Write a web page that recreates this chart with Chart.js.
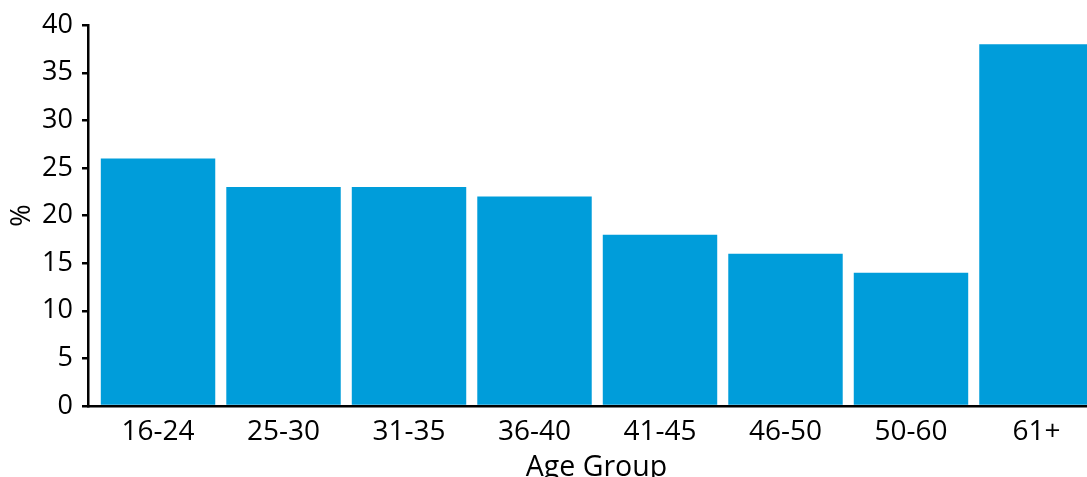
<!DOCTYPE html>
<html>
<head>
<meta charset="utf-8">
<script src="https://cdn.jsdelivr.net/npm/chart.js@4.4.1/dist/chart.umd.min.js"></script>
<style>
  html, body { margin: 0; padding: 0; background: #fff; overflow: hidden; }
  #wrap { width: 1105px; height: 477px; position: relative; }
</style>
</head>
<body>
<div id="wrap"><canvas id="ageChart"></canvas></div>
<script>
// data
const ageGroups = ['16-24', '25-30', '31-35', '36-40', '41-45', '46-50', '50-60', '61+'];
const percentValues = [26, 23, 23, 22, 18, 16, 14, 38];
const yTicks = [0, 5, 10, 15, 20, 25, 30, 35, 40];

const BAR_BLUE = '#009DDA';
const FONT = '"Open Sans", "Noto Sans", sans-serif';

Chart.defaults.font.family = FONT;
Chart.defaults.color = '#000';

// plot runs a little past the right edge of the window, like the original
const ctx = document.getElementById('ageChart').getContext('2d');
new Chart(ctx, {
    type: 'bar',
    data: {
        datasets: [{
            label: '%',
            data: percentValues.map((v, i) => ({ x: i, y: v })),
            backgroundColor: BAR_BLUE,
            borderWidth: 0,
            categoryPercentage: 1,
            barPercentage: 0.912
        }]
    },
    options: {
        responsive: true,
        maintainAspectRatio: false,
        animation: false,
        layout: { padding: { top: 24, right: 0, bottom: 0, left: 0 } },
        plugins: {
            legend: { display: false },
            tooltip: { enabled: false }
        },
        scales: {
            x: {
                type: 'linear',
                offset: false,
                min: -0.558,
                max: 7.546,
                grid: { display: false, offset: false },
                border: { color: '#000', width: 2.5 },
                afterBuildTicks: (s) => { s.ticks = ageGroups.map((_, i) => ({ value: i })); },
                afterFit: (s) => { s.height = 71; },
                ticks: {
                    autoSkip: false,
                    maxRotation: 0,
                    padding: 1,
                    font: { size: 28 },
                    callback: (v) => ageGroups[v]
                },
                title: {
                    display: true,
                    text: 'Age Group',
                    font: { size: 28.5, lineHeight: 0.65 },
                    padding: 0
                }
            },
            y: {
                min: 0,
                max: 40,
                afterBuildTicks: (s) => { s.ticks = yTicks.map(v => ({ value: v })); },
                afterFit: (s) => { s.width = 88; },
                grid: {
                    drawOnChartArea: false,
                    drawTicks: true,
                    tickLength: 6,
                    lineWidth: 2.5,
                    color: '#000'
                },
                border: { color: '#000', width: 2.5 },
                ticks: {
                    padding: 9,
                    font: { size: 27 }
                },
                title: {
                    display: true,
                    text: '%',
                    font: { size: 27, lineHeight: 1 },
                    padding: { top: 9, bottom: 0 }
                }
            }
        }
    }
});
</script>
</body>
</html>
